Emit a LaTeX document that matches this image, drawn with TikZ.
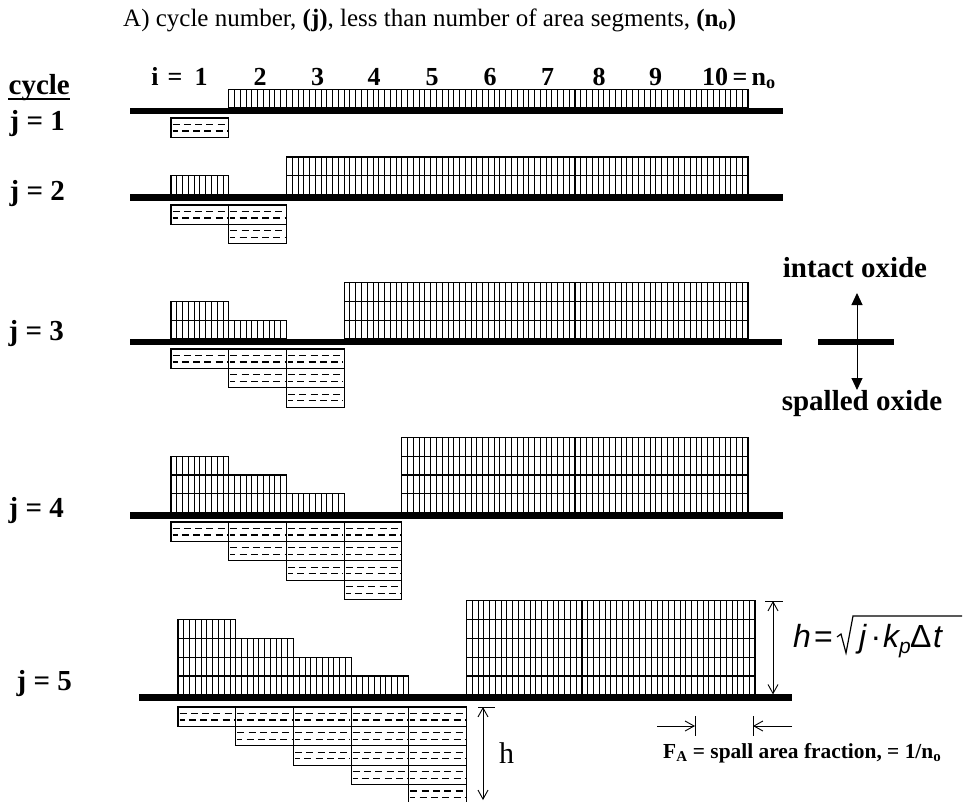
\documentclass[tikz,border=0pt]{standalone}
\usepackage{fontspec}
\setmainfont{Liberation Serif}
\setsansfont{Liberation Sans}
\usetikzlibrary{arrows.meta}
\newcommand\segW{57.7}
\newcommand\unitI{18.8}
\newcommand\unitS{19.4}
\newcommand\intactcol[3]{%
  \pgfmathsetmacro\ytopI{#2-#3*\unitI}%
  \foreach \k in {1,...,9}{\draw[hatch] ({#1+\k*\segW/10},#2) -- ({#1+\k*\segW/10},\ytopI);}%
  \foreach \m in {1,...,#3}{\draw[boxline] (#1,{#2-\m*\unitI}) -- ({#1+\segW},{#2-\m*\unitI});}%
  \draw[boxline] (#1,#2) rectangle ({#1+\segW},\ytopI);%
}
\newcommand\spallbox[2]{%
  \draw[boxline] (#1,#2) rectangle ({#1+\segW},{#2+\unitS});%
  \draw[dashline] ({#1+1.5},{#2+\unitS/3}) -- ({#1+\segW-1.5},{#2+\unitS/3});%
  \draw[dashline,dash phase=2pt] ({#1+1.5},{#2+2*\unitS/3}) -- ({#1+\segW-1.5},{#2+2*\unitS/3});%
}
\newcommand\cyclerow[6]{%
  \foreach \i in {1,...,10}{%
    \pgfmathtruncatemacro\nI{\i<#1 ? #1-\i : (\i==#1 ? 0 : #1)}%
    \pgfmathsetmacro\xl{#2+(\i-1)*\segW}%
    \ifnum\nI>0\relax \intactcol{\xl}{#3-3}{\nI}\fi
  }%
  \foreach \i in {1,...,#1}{%
    \pgfmathsetmacro\xl{#2+(\i-1)*\segW}%
    \foreach \m in {1,...,\i}{%
      \pgfmathsetmacro\yt{#6+(\m-1)*\unitS}%
      \spallbox{\xl}{\yt}%
    }%
  }%
  \draw[bar] (#4,#3) -- (#5,#3);%
}
\begin{document}
\begin{tikzpicture}[x=1pt,y=-1pt,
  bar/.style={line width=6.5pt},
  boxline/.style={line width=1.2pt},
  hatch/.style={line width=0.8pt},
  dashline/.style={line width=1.2pt, dash pattern=on 7pt off 4.3pt},
  lbl/.style={inner sep=0pt, font=\fontsize{29}{32}\selectfont\bfseries},
  collbl/.style={inner sep=0pt, font=\fontsize{26}{29}\selectfont\bfseries},
  dim/.style={line width=0.9pt, {Straight Barb[length=9pt,width=10pt]}-{Straight Barb[length=9pt,width=10pt]}},
  onearrow/.style={line width=0.9pt, -{Straight Barb[length=9pt,width=10pt]}},
  tick/.style={line width=0.9pt},
  legarrow/.style={line width=1pt, -{Triangle[length=12pt,width=11pt]}},
  formula/.style={inner sep=0pt, font=\fontsize{32}{35}\selectfont\sffamily\itshape}
]
\useasboundingbox (0,0) rectangle (964,801);
\clip (0,0) rectangle (964,801);

% title
\node[anchor=base west, inner sep=0pt, font=\fontsize{25}{28}\selectfont] (title) at (123,26)
  {A) cycle number, \textbf{(j)}, less than number of area segments, \textbf{(n\textsubscript{o})}};

% column labels
\node[collbl, anchor=base] (ci) at (155,85) {i};
\node[collbl, anchor=base] (ceq) at (175,85) {=};
\node[collbl, anchor=base] (c1) at (201,85) {1};
\node[collbl, anchor=base] (c2) at (260,85) {2};
\node[collbl, anchor=base] (c3) at (317.5,85) {3};
\node[collbl, anchor=base] (c4) at (374,85) {4};
\node[collbl, anchor=base] (c5) at (432,85) {5};
\node[collbl, anchor=base] (c6) at (490,85) {6};
\node[collbl, anchor=base] (c7) at (547.5,85) {7};
\node[collbl, anchor=base] (c8) at (599,85) {8};
\node[collbl, anchor=base] (c9) at (655.5,85) {9};
\node[collbl, anchor=base west] (c10) at (702,85) {10\,=\,n\textsubscript{o}};

% row labels
\node[lbl, anchor=base east] (cyc) at (70,94) {cycle};
\draw[line width=1.5pt] ([yshift=-5pt]cyc.base west) -- ([yshift=-5pt]cyc.base east);
\node[lbl, anchor=base east] (j1) at (65,130) {j = 1};
\node[lbl, anchor=base east] (j2) at (65,200) {j = 2};
\node[lbl, anchor=base east] (j3) at (64,340) {j = 3};
\node[lbl, anchor=base east] (j4) at (64,517) {j = 4};
\node[lbl, anchor=base east] (j5) at (72,690) {j = 5};

% rows
\cyclerow{1}{171}{111}{130}{783}{118}
\cyclerow{2}{171}{197.5}{130}{783}{205}
\cyclerow{3}{171}{342}{130}{782}{349}
\cyclerow{4}{171}{515.5}{130}{783}{522}
\cyclerow{5}{178}{697.7}{139}{792}{707}

% legend
\coordinate (legL) at (818,342);
\coordinate (legR) at (894,342);
\coordinate (legUp0) at (857,338.75);
\coordinate (legUp1) at (857,293);
\coordinate (legDn0) at (857,345.25);
\coordinate (legDn1) at (857,390);
\draw[bar] (legL) -- (legR);
\draw[legarrow] (legUp0) -- (legUp1);
\draw[legarrow] (legDn0) -- (legDn1);
\node[lbl, anchor=base] (intact) at (855,277) {intact oxide};
\node[lbl, anchor=base] (spalled) at (862,410) {spalled oxide};

% h dimension (intact)
\coordinate (dtop) at (773,601);
\coordinate (dbot) at (773,694.4);
\coordinate (dtl) at (765,601);
\coordinate (dtr) at (783,601);
\draw[dim] (dtop) -- (dbot);
\draw[tick] (dtl) -- (dtr);

% formula
\node[formula, anchor=base west] (fh) at (793,647) {h};
\node[formula, anchor=base west] (feq) at (814,647) {\upshape =};
\node[formula, anchor=base west] (fj) at (859,647) {j};
\node[formula, anchor=base] (fdot) at (876,647) {\upshape ·};
\node[formula, anchor=base west] (fk) at (883,647) {k};
\node[formula, anchor=base west, font=\fontsize{21}{23}\selectfont\sffamily\itshape] (fp) at (899,653) {p};
\node[formula, anchor=base west] (fD) at (910,647) {\upshape Δ};
\node[formula, anchor=base west] (ft) at (933,647) {t};
\coordinate (radend) at (962,616);
\draw[line width=1.2pt, line join=miter] (837,637) -- (841,634) -- (846,653) -- (853,616) -- (radend);

% h dimension (spalled)
\coordinate (htop) at (483,707);
\coordinate (hbot) at (483,800);
\coordinate (htl) at (478,707);
\coordinate (htr) at (495,707);
\draw[dim] (htop) -- (hbot);
\draw[tick] (htl) -- (htr);
\node[anchor=base west, inner sep=0pt, font=\fontsize{30}{32}\selectfont] (hlow) at (499,763) {h};

% F_A arrows
\coordinate (fa1) at (657,726);
\coordinate (fa2) at (695,726);
\coordinate (fa2t) at (695,716);
\coordinate (fa2b) at (695,736);
\coordinate (fb1) at (792,726);
\coordinate (fb2) at (753,726);
\coordinate (fb2t) at (753,716);
\coordinate (fb2b) at (753,736);
\draw[onearrow] (fa1) -- (fa2);
\draw[tick] (fa2t) -- (fa2b);
\draw[onearrow] (fb1) -- (fb2);
\draw[tick] (fb2t) -- (fb2b);
\node[anchor=base west, inner sep=0pt, font=\fontsize{21.4}{24}\selectfont\bfseries] (fa) at (663,758)
  {F\textsubscript{A} = spall area fraction, = 1/n\textsubscript{o}};
\end{tikzpicture}
\end{document}
